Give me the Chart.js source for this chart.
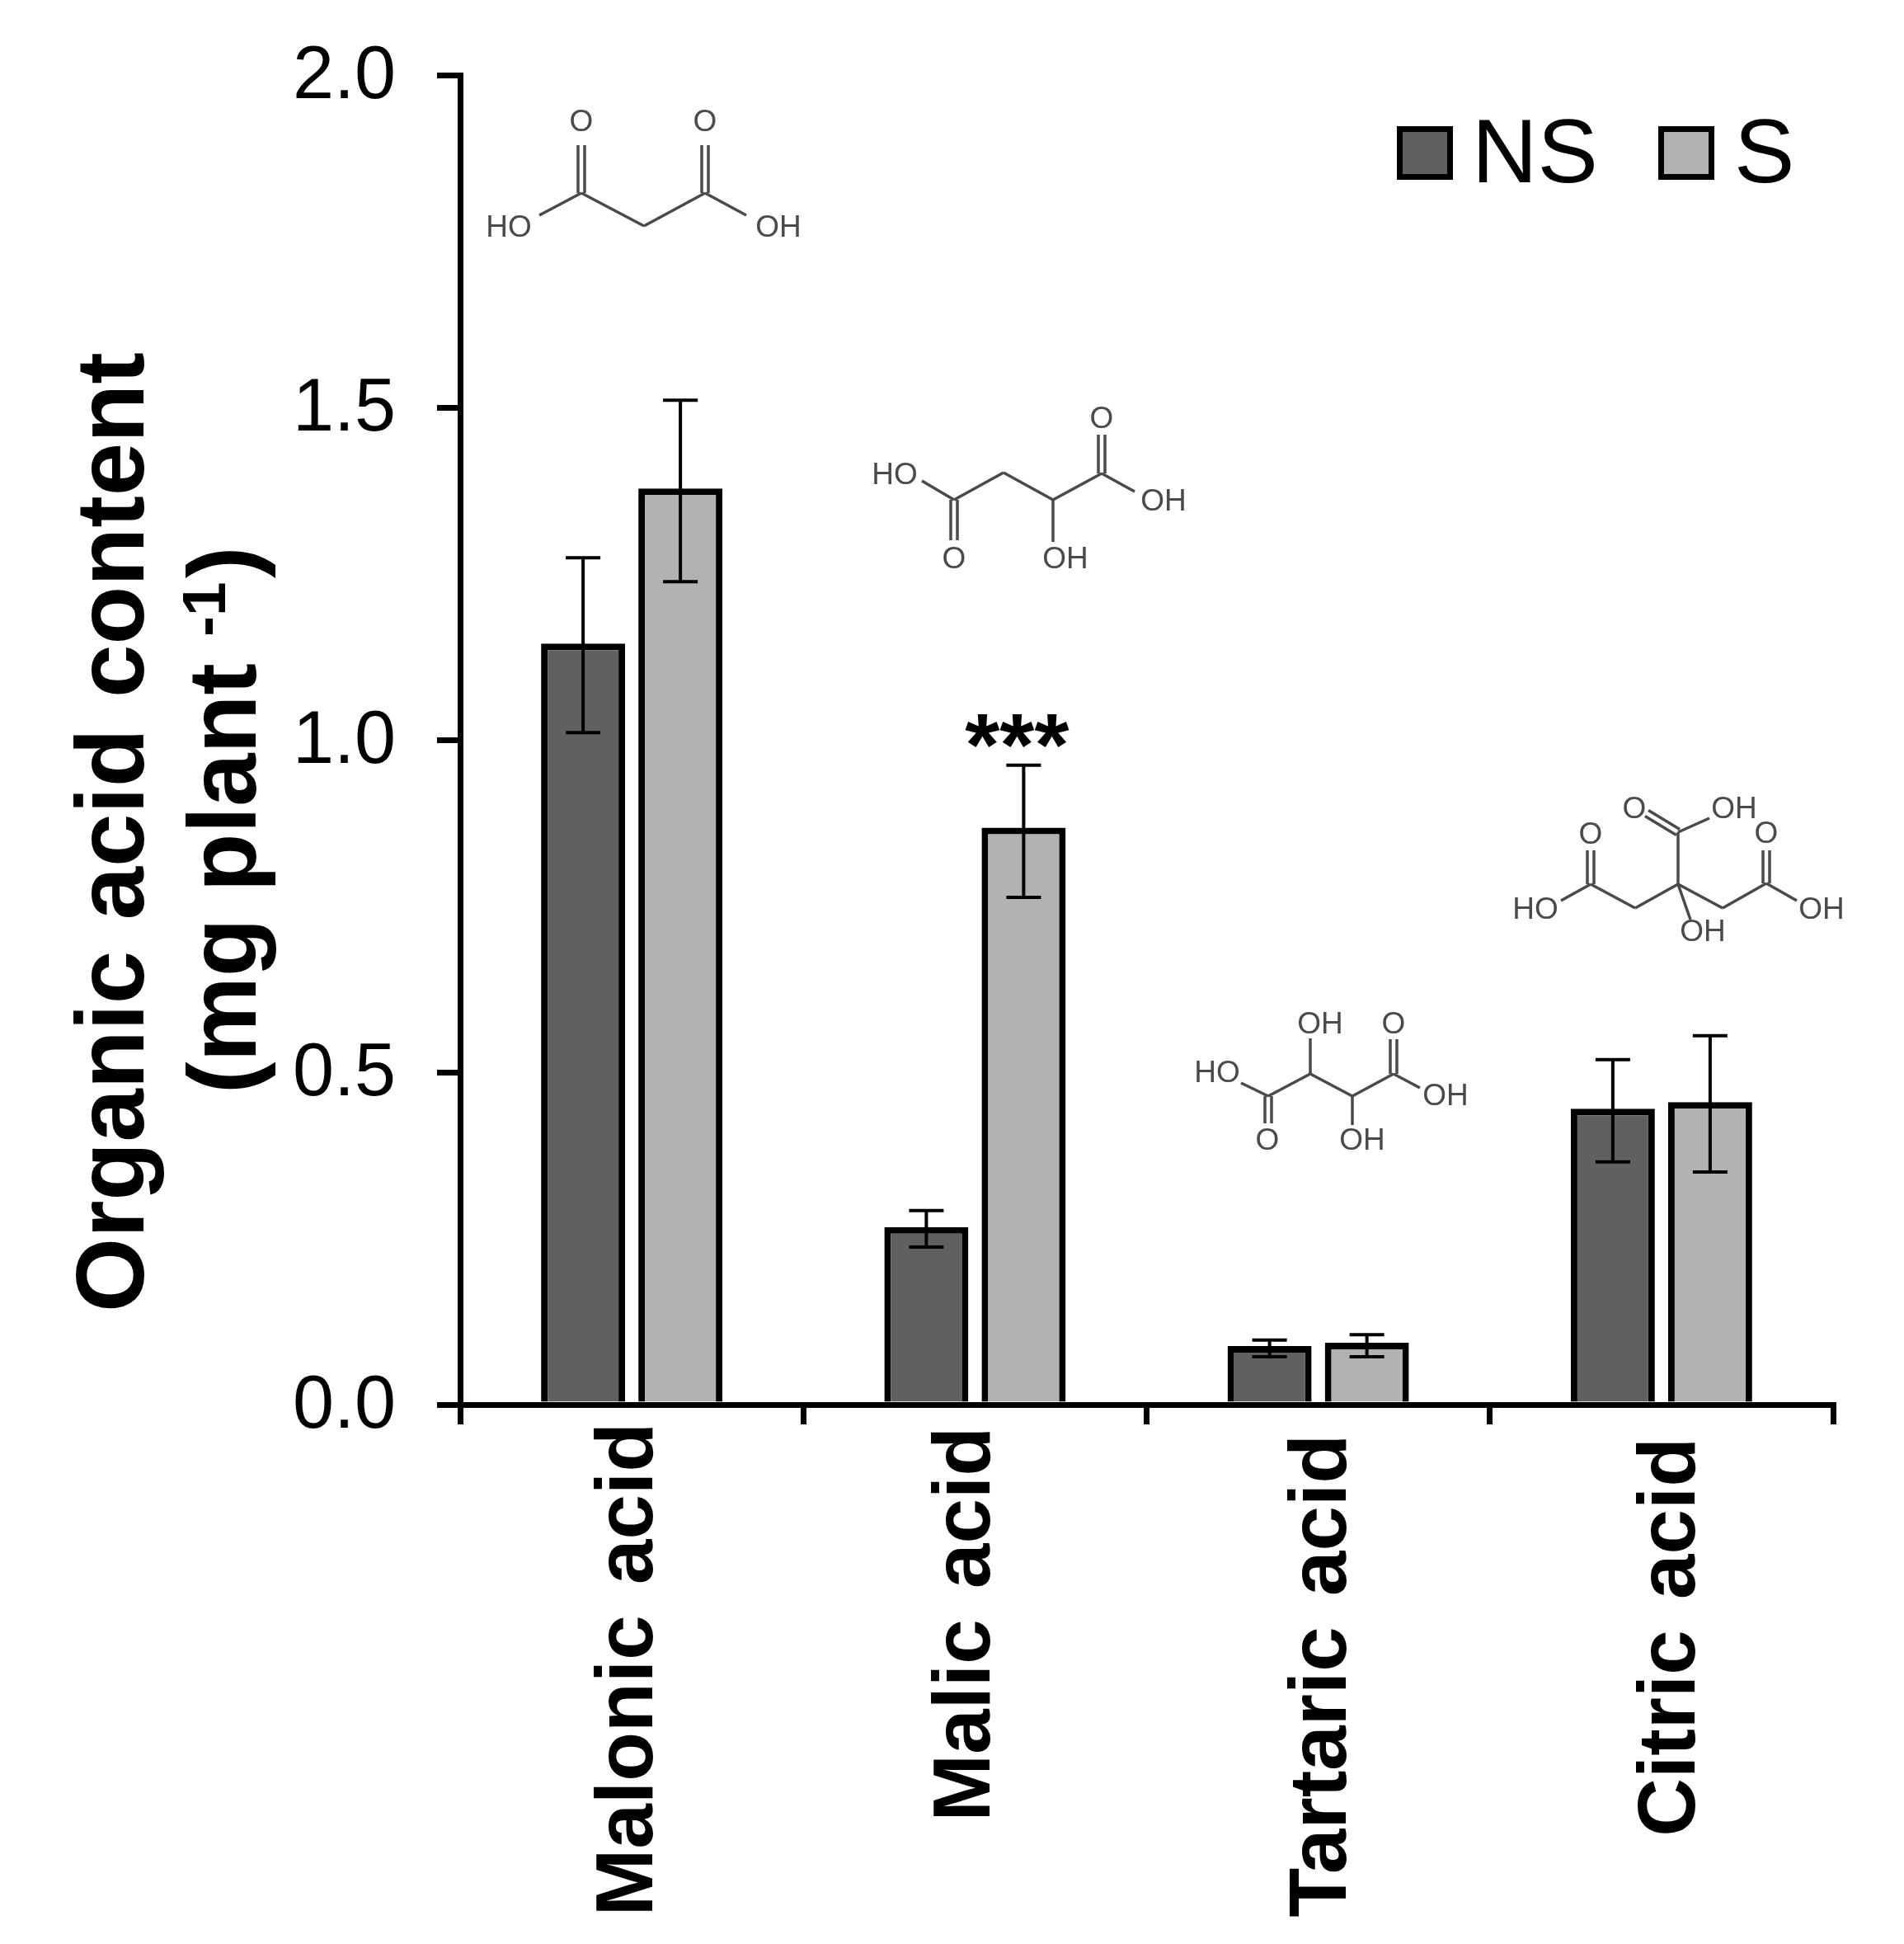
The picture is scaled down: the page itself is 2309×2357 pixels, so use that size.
<!DOCTYPE html>
<html>
<head>
<meta charset="utf-8">
<title>Organic acid content</title>
<script src="https://cdn.jsdelivr.net/npm/chart.js@4"></script>
<style>
    html, body { margin: 0; padding: 0; background: #fff; }
    canvas { display: block; }
</style>
</head>
<body>
<canvas id="acidChart" width="2309" height="2357"></canvas>
<script>
const categories = ['Malonic acid', 'Malic acid', 'Tartaric acid', 'Citric acid'];
const seriesNames = ['NS', 'S'];

const nsValues = [1.145, 0.267, 0.088, 0.445];
const sValues = [1.378, 0.868, 0.093, 0.455];

const nsErrorTop = [1.274, 0.292, 0.097, 0.519];
const nsErrorBottom = [1.011, 0.237, 0.072, 0.365];
const sErrorTop = [1.511, 0.962, 0.105, 0.555];
const sErrorBottom = [1.238, 0.763, 0.072, 0.350];

const sSignificance = ['', '***', '', ''];
const yTicks = [0, 0.5, 1, 1.5, 2];

// the reference does not centre its labels on the ticks, so each one gets a small nudge
const labelBaselineNudge = [25, 18, 33, 40];
const labelTop = [1725, 1730, 1739, 1743];

const FONT = '"Liberation Sans", Arial, sans-serif';
const STRUCTURE_COLOR = '#4a4a4a';

// chemical structures, page pixels: single bonds, double bonds, atom labels
const structures = [
    {
        bonds: [[654, 261, 705, 234], [705, 234, 781, 274], [781, 274, 855, 234], [855, 234, 905, 261]],
        doubles: [[705, 234, 705, 176], [855, 234, 855, 176]],
        atoms: [['O', 705, 149], ['O', 855, 149], ['HO', 617, 277], ['OH', 944, 277]]
    },
    {
        bonds: [[1118, 583, 1157, 606], [1157, 606, 1217, 573], [1217, 573, 1277, 606], [1277, 606, 1336, 574],
                [1336, 574, 1376, 596], [1277, 606, 1277, 657]],
        doubles: [[1157, 606, 1157, 655], [1336, 574, 1336, 527]],
        atoms: [['HO', 1085, 577], ['O', 1336, 509], ['OH', 1411, 609], ['O', 1157, 679], ['OH', 1292, 679]]
    },
    {
        bonds: [[1505, 1313, 1538, 1329], [1538, 1329, 1589, 1302], [1589, 1302, 1640, 1329], [1640, 1329, 1690, 1302],
                [1690, 1302, 1722, 1319], [1589, 1302, 1589, 1259], [1640, 1329, 1640, 1364]],
        doubles: [[1538, 1329, 1538, 1362], [1690, 1302, 1690, 1260]],
        atoms: [['HO', 1476, 1302], ['OH', 1601, 1243], ['O', 1690, 1243], ['OH', 1753, 1330], ['O', 1537, 1384], ['OH', 1652, 1384]]
    },
    {
        bonds: [[1893, 1092, 1929, 1072], [1929, 1072, 1983, 1101], [1983, 1101, 2035, 1072], [2035, 1072, 2089, 1101],
                [2089, 1101, 2142, 1071], [2142, 1071, 2179, 1092], [2035, 1072, 2035, 1009], [2035, 1009, 2073, 992],
                [2035, 1072, 2050, 1115]],
        doubles: [[1929, 1072, 1929, 1031], [2142, 1071, 2142, 1031], [2035, 1009, 1997, 986]],
        atoms: [['HO', 1862, 1104], ['O', 1929, 1013], ['O', 1982, 982], ['OH', 2103, 982], ['O', 2142, 1012],
                ['OH', 2209, 1104], ['OH', 2065, 1131]]
    }
];

function drawStructure(ctx, s) {
    ctx.strokeStyle = STRUCTURE_COLOR;
    ctx.lineWidth = 3.5;
    s.bonds.forEach(([x1, y1, x2, y2]) => {
        ctx.beginPath();
        ctx.moveTo(x1, y1);
        ctx.lineTo(x2, y2);
        ctx.stroke();
    });
    s.doubles.forEach(([x1, y1, x2, y2]) => {
        const len = Math.hypot(x2 - x1, y2 - y1);
        const nx = (y2 - y1) / len * 4;
        const ny = (x1 - x2) / len * 4;
        [1, -1].forEach(side => {
            ctx.beginPath();
            ctx.moveTo(x1 + nx * side, y1 + ny * side);
            ctx.lineTo(x2 + nx * side, y2 + ny * side);
            ctx.stroke();
        });
    });
    ctx.fillStyle = STRUCTURE_COLOR;
    ctx.font = '37px ' + FONT;
    ctx.textAlign = 'center';
    ctx.textBaseline = 'middle';
    s.atoms.forEach(([text, x, y]) => ctx.fillText(text, x, y));
}

function drawRotated(ctx, text, x, y, font, align, wordSpacing) {
    ctx.save();
    ctx.translate(x, y);
    ctx.rotate(-Math.PI / 2);
    ctx.font = font;
    ctx.wordSpacing = wordSpacing || '0px';
    ctx.textAlign = align;
    ctx.textBaseline = 'alphabetic';
    ctx.fillStyle = '#000';
    ctx.fillText(text, 0, 0);
    ctx.restore();
}

const errorBarPlugin = {
    id: 'errorBars',
    afterDatasetsDraw(chart) {
        const ctx = chart.ctx;
        const yScale = chart.scales.y;
        const errors = [[nsErrorTop, nsErrorBottom], [sErrorTop, sErrorBottom]];
        ctx.save();
        ctx.strokeStyle = '#000';
        ctx.lineWidth = 4;
        errors.forEach(([tops, bottoms], d) => {
            chart.getDatasetMeta(d).data.forEach((bar, i) => {
                const top = yScale.getPixelForValue(tops[i]);
                const bottom = yScale.getPixelForValue(bottoms[i]);
                ctx.beginPath();
                ctx.moveTo(bar.x, top);
                ctx.lineTo(bar.x, bottom);
                ctx.moveTo(bar.x - 21, top);
                ctx.lineTo(bar.x + 21, top);
                ctx.moveTo(bar.x - 21, bottom);
                ctx.lineTo(bar.x + 21, bottom);
                ctx.stroke();
            });
        });
        ctx.restore();
    }
};

const annotationPlugin = {
    id: 'annotations',
    afterDraw(chart) {
        const ctx = chart.ctx;
        const xScale = chart.scales.x;
        const yScale = chart.scales.y;
        ctx.save();

        // axis titles
        drawRotated(ctx, 'Organic acid content', 174, 1591, 'bold 116px ' + FONT, 'left', '5px');
        drawRotated(ctx, '(mg plant', 310, 1326, 'bold 116px ' + FONT, 'left');
        drawRotated(ctx, '-1', 273, 772, 'bold 75px ' + FONT, 'left');
        drawRotated(ctx, ')', 310, 701, 'bold 116px ' + FONT, 'left');

        // category labels
        categories.forEach((label, i) => {
            drawRotated(ctx, label, xScale.getPixelForTick(i) + labelBaselineNudge[i], labelTop[i], 'bold 98px ' + FONT, 'right', '10px');
        });

        // significance marks
        ctx.fillStyle = '#000';
        ctx.font = 'bold 108px ' + FONT;
        ctx.textAlign = 'center';
        ctx.textBaseline = 'alphabetic';
        chart.getDatasetMeta(1).data.forEach((bar, i) => {
            if (sSignificance[i]) {
                ctx.fillText(sSignificance[i], bar.x - 8, yScale.getPixelForValue(sErrorTop[i]) + 12);
            }
        });

        // legend
        const legendBoxes = [1694, 2011];
        const legendText = [1785, 2103];
        chart.data.datasets.forEach((dataset, i) => {
            ctx.fillStyle = dataset.backgroundColor;
            ctx.fillRect(legendBoxes[i], 153, 68, 65);
            ctx.strokeStyle = '#000';
            ctx.lineWidth = 7;
            ctx.strokeRect(legendBoxes[i] + 3.5, 156.5, 61, 58);
            ctx.fillStyle = '#000';
            ctx.font = '110px ' + FONT;
            ctx.textAlign = 'left';
            ctx.fillText(dataset.label, legendText[i], 221);
        });

        structures.forEach(s => drawStructure(ctx, s));
        ctx.restore();
    }
};

new Chart(document.getElementById('acidChart').getContext('2d'), {
    type: 'bar',
    data: {
        labels: categories,
        datasets: [
            { label: seriesNames[0], data: nsValues, backgroundColor: '#606060', borderColor: '#000', borderWidth: 8 },
            { label: seriesNames[1], data: sValues, backgroundColor: '#B2B2B2', borderColor: '#000', borderWidth: 8 }
        ]
    },
    options: {
        responsive: false,
        animation: false,
        devicePixelRatio: 1,
        layout: { padding: { top: 91, right: 86, left: 0, bottom: 0 } },
        datasets: { bar: { categoryPercentage: 0.567, barPercentage: 0.864 } },
        plugins: { legend: { display: false }, tooltip: { enabled: false } },
        scales: {
            x: {
                grid: { offset: true, drawOnChartArea: false, color: '#000', lineWidth: 7, tickLength: 24 },
                border: { color: '#000', width: 7, z: 1 },
                ticks: { display: false },
                afterFit(scale) { scale.height = 654; }
            },
            y: {
                min: 0,
                max: 2,
                afterBuildTicks(scale) { scale.ticks = yTicks.map(value => ({ value })); },
                grid: { drawOnChartArea: false, color: '#000', lineWidth: 7, tickLength: 28 },
                border: { color: '#000', width: 7 },
                ticks: {
                    color: '#000',
                    padding: 50,
                    labelOffset: 3,
                    font: { family: FONT, size: 90 },
                    callback: value => value.toFixed(1)
                },
                afterFit(scale) {
                    scale.width = 558;
                    // keep the plot top fixed, the 2.0 label must not push it down
                    scale.paddingTop = 0;
                    scale.paddingBottom = 0;
                }
            }
        }
    },
    plugins: [errorBarPlugin, annotationPlugin]
});
</script>
</body>
</html>
